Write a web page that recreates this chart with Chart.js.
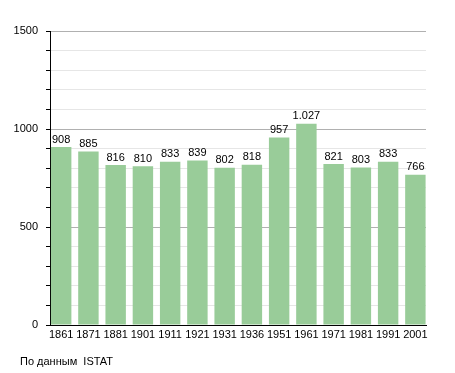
<!DOCTYPE html>
<html lang="ru">
<head>
  <meta charset="UTF-8">
  <title>Население</title>
  <script src="https://cdn.jsdelivr.net/npm/chart.js"></script>
  <style>
    body { margin: 0; padding: 0; background: #fff; }
    canvas { display: block; }
  </style>
</head>
<body>
  <canvas id="popChart" width="455" height="373"></canvas>
  <script>
    // данные
    const years = ['1861', '1871', '1881', '1901', '1911', '1921', '1931', '1936', '1951', '1961', '1971', '1981', '1991', '2001'];
    const population = [908, 885, 816, 810, 833, 839, 802, 818, 957, 1027, 821, 803, 833, 766];
    const yTicks = [0, 500, 1000, 1500];
    const sourceNote = 'По данным  ISTAT';

    const FONT = '"Liberation Sans", Arial, sans-serif';

    const fmt = v => v >= 1000 ? Math.floor(v / 1000) + '.' + String(v % 1000).padStart(3, '0') : String(v);

    // подписи над столбцами + источник внизу
    const labelsPlugin = {
      id: 'barLabels',
      afterDatasetsDraw(chart) {
        const ctx = chart.ctx;
        const meta = chart.getDatasetMeta(0);
        ctx.save();
        ctx.font = '11px ' + FONT;
        ctx.fillStyle = '#000';
        ctx.textAlign = 'center';
        ctx.textBaseline = 'bottom';
        meta.data.forEach((bar, i) => {
          ctx.fillText(fmt(population[i]), bar.x, bar.y - 2);
        });
        ctx.textAlign = 'left';
        ctx.textBaseline = 'middle';
        ctx.fillText(sourceNote, 20, 362);
        ctx.restore();
      }
    };

    new Chart(document.getElementById('popChart'), {
      type: 'bar',
      data: {
        datasets: [{
          data: population.map((v, i) => ({ x: i, y: v })),
          backgroundColor: '#99cc99',
          categoryPercentage: 0.75,
          barPercentage: 1.0
        }]
      },
      options: {
        responsive: false,
        animation: false,
        layout: { padding: { left: 0, right: 29, top: 31, bottom: 0 } },
        plugins: {
          legend: { display: false },
          tooltip: { enabled: false }
        },
        scales: {
          x: {
            type: 'linear',
            offset: false,
            min: -0.41,
            max: 13.39,
            afterFit(scale) { scale.height = 48; },
            afterBuildTicks(scale) {
              scale.ticks = years.map((y, i) => ({ value: i }));
            },
            grid: { display: false, drawTicks: false },
            border: { color: '#000', width: 1 },
            ticks: {
              color: '#000',
              font: { family: FONT, size: 11 },
              padding: 3,
              maxRotation: 0,
              autoSkip: false,
              callback: v => years[v] || ''
            }
          },
          y: {
            min: 0,
            max: 1500,
            afterFit(scale) { scale.width = 50; },
            afterBuildTicks(scale) {
              const t = [];
              for (let v = 0; v <= 1500; v += 100) t.push({ value: v });
              scale.ticks = t;
            },
            border: { color: '#000', width: 1 },
            grid: {
              color: c => yTicks.includes(c.tick.value) ? '#b0b0b0' : '#e6e6e6',
              tickColor: '#000',
              tickLength: 4
            },
            ticks: {
              color: '#000',
              font: { family: FONT, size: 11 },
              padding: 8,
              callback: v => yTicks.includes(v) ? String(v) : ''
            }
          }
        }
      },
      plugins: [labelsPlugin]
    });
  </script>
</body>
</html>
